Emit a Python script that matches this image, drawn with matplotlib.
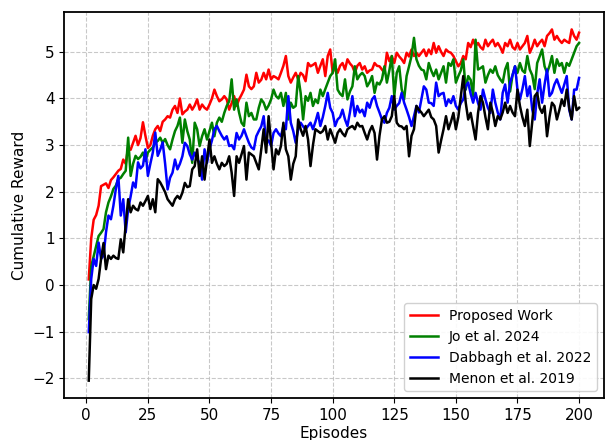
import matplotlib
matplotlib.use("Agg")
import matplotlib.pyplot as plt
import numpy as np

episodes = list(range(1, 201))

proposed = [
    0.12, 1.00, 1.40, 1.50, 1.70, 2.12, 2.15, 2.18, 2.08, 2.25,
    2.31, 2.38, 2.45, 2.49, 2.69, 2.60, 2.95, 2.90, 3.05, 3.20,
    3.00, 3.15, 3.49, 3.20, 2.94, 3.00, 3.20, 3.34, 3.41, 3.30,
    3.50, 3.55, 3.62, 3.59, 3.76, 3.84, 3.69, 4.00, 3.66, 3.72,
    3.76, 3.87, 3.76, 3.85, 3.98, 3.76, 3.87, 3.80, 3.76, 3.87,
    4.00, 4.19, 4.05, 3.94, 3.98, 4.05, 3.98, 3.76, 3.90, 4.05,
    3.84, 3.98, 4.08, 4.19, 4.51, 4.26, 4.20, 4.26, 4.55, 4.34,
    4.40, 4.55, 4.41, 4.62, 4.41, 4.48, 4.45, 4.41, 4.55, 4.70,
    4.91, 4.48, 4.34, 4.45, 4.55, 4.41, 4.55, 4.50, 4.37, 4.76,
    4.69, 4.72, 4.76, 4.55, 4.70, 4.84, 4.48, 4.91, 5.05, 4.55,
    4.69, 4.55, 4.70, 4.76, 4.62, 4.84, 4.75, 4.69, 4.55, 4.70,
    4.76, 4.62, 4.69, 4.55, 4.60, 4.62, 4.76, 4.70, 4.69, 4.62,
    4.55, 4.98, 4.80, 4.91, 4.76, 4.98, 4.90, 4.84, 4.76, 4.98,
    4.90, 5.05, 4.91, 4.98, 4.91, 4.98, 5.05, 4.91, 5.05, 4.95,
    5.19, 4.98, 5.12, 5.00, 4.91, 5.05, 5.00, 4.98, 4.91, 4.80,
    4.69, 4.76, 4.91, 4.84, 5.19, 5.10, 5.26, 5.12, 5.19, 5.10,
    5.05, 5.26, 5.12, 5.20, 5.26, 5.12, 5.19, 5.10, 4.98, 5.19,
    5.12, 5.26, 5.10, 5.05, 5.19, 5.05, 5.12, 5.19, 5.34, 4.98,
    5.10, 5.26, 5.12, 5.20, 5.26, 5.12, 5.34, 5.40, 5.48, 5.26,
    5.34, 5.25, 5.19, 5.26, 5.22, 5.19, 5.48, 5.34, 5.26, 5.41,
]

jo2024 = [
    -0.73, 0.40, 0.62, 0.84, 1.05, 1.12, 1.20, 1.56, 1.77, 1.90,
    2.06, 2.13, 2.27, 2.30, 2.38, 2.45, 3.16, 2.34, 2.60, 2.77,
    2.70, 2.75, 2.84, 2.66, 2.84, 2.90, 2.95, 3.05, 3.09, 3.16,
    3.05, 3.13, 3.00, 2.91, 3.12, 3.30, 3.41, 3.59, 3.05, 3.55,
    3.30, 3.12, 2.62, 3.48, 3.34, 2.98, 3.19, 3.34, 3.12, 3.30,
    3.48, 3.19, 3.48, 3.59, 3.50, 3.69, 3.84, 3.94, 4.41, 3.76,
    3.98, 3.70, 3.48, 3.41, 3.91, 3.62, 3.69, 3.55, 3.55, 3.80,
    3.98, 3.91, 3.76, 3.85, 3.98, 4.19, 4.05, 4.00, 4.12, 3.84,
    4.12, 3.55, 3.91, 3.80, 3.84, 4.48, 4.12, 3.55, 4.05, 3.95,
    4.12, 3.84, 3.98, 3.90, 4.19, 4.05, 4.20, 4.34, 4.48, 4.55,
    4.84, 4.19, 4.10, 4.05, 4.41, 3.98, 4.15, 4.26, 4.69, 4.41,
    4.50, 4.55, 4.48, 4.26, 4.35, 4.48, 4.12, 4.34, 4.30, 4.41,
    4.69, 4.34, 4.60, 4.91, 4.05, 4.55, 4.69, 4.20, 3.98, 4.48,
    4.69, 4.91, 5.30, 4.84, 4.70, 4.62, 4.60, 4.41, 4.76, 4.60,
    4.48, 4.62, 4.41, 4.55, 4.69, 4.34, 4.76, 4.70, 4.84, 4.34,
    4.48, 4.60, 4.84, 4.19, 4.48, 4.40, 4.05, 5.26, 4.62, 4.65,
    4.69, 4.34, 4.50, 4.62, 4.55, 4.69, 4.50, 4.41, 4.34, 4.62,
    4.76, 4.15, 4.50, 4.69, 4.55, 4.76, 4.60, 4.55, 4.91, 4.62,
    4.50, 4.20, 4.76, 4.90, 5.05, 4.69, 4.55, 4.70, 4.91, 4.55,
    4.84, 4.70, 4.76, 4.55, 4.76, 4.70, 4.84, 4.98, 5.12, 5.19,
]

dabbagh2022 = [
    -1.01, 0.13, 0.56, 0.41, 0.91, 0.56, 0.63, 1.13, 1.49, 1.41,
    1.70, 2.06, 2.34, 1.49, 1.84, 1.13, 1.63, 1.90, 2.20, 2.09,
    2.63, 2.50, 2.56, 2.91, 2.34, 2.60, 2.84, 3.27, 2.77, 2.90,
    3.06, 2.60, 2.05, 2.30, 2.41, 2.69, 2.48, 2.60, 2.76, 3.05,
    2.98, 2.80, 2.69, 2.84, 2.70, 2.62, 2.26, 2.91, 2.62, 2.91,
    3.10, 3.34, 3.41, 3.30, 3.20, 3.12, 3.19, 2.98, 3.00, 2.91,
    3.26, 3.12, 3.20, 3.34, 3.19, 3.05, 2.95, 2.91, 3.19, 3.30,
    3.40, 3.62, 3.05, 3.10, 2.98, 3.26, 3.34, 3.25, 3.19, 3.41,
    3.34, 4.05, 3.48, 3.30, 3.05, 3.34, 3.48, 3.40, 3.34, 3.41,
    3.48, 3.34, 3.50, 3.69, 3.41, 3.60, 3.84, 4.12, 3.80, 3.69,
    3.41, 3.55, 3.60, 3.76, 3.55, 3.41, 3.70, 4.05, 3.62, 3.84,
    3.70, 3.76, 3.62, 3.91, 3.80, 3.98, 4.05, 3.84, 3.70, 3.55,
    3.48, 3.69, 3.80, 4.05, 3.76, 3.84, 3.90, 4.12, 3.91, 3.76,
    3.60, 3.41, 3.62, 3.84, 3.70, 3.98, 4.26, 4.19, 3.91, 3.90,
    3.84, 4.34, 4.05, 4.10, 4.12, 3.84, 3.98, 3.90, 4.05, 3.84,
    3.76, 3.90, 3.98, 4.26, 4.34, 4.10, 3.91, 4.12, 3.90, 3.76,
    4.19, 3.98, 3.80, 3.69, 4.19, 3.91, 3.70, 3.55, 4.12, 4.30,
    3.91, 4.34, 4.50, 4.69, 4.19, 3.98, 4.20, 4.48, 4.05, 4.26,
    3.76, 3.55, 4.10, 4.41, 3.91, 4.30, 4.62, 4.05, 4.12, 4.30,
    4.41, 4.26, 4.12, 4.30, 4.48, 3.76, 3.55, 4.19, 4.19, 4.44,
]

menon2019 = [
    -2.05, -0.30, 0.00, -0.08, 0.13, 0.56, 0.90, 0.34, 0.63, 0.56,
    0.63, 0.58, 0.56, 0.98, 0.70, 1.30, 1.84, 1.56, 1.70, 1.63,
    1.60, 1.77, 1.70, 1.80, 1.91, 1.63, 1.84, 1.56, 2.27, 2.20,
    2.10, 1.99, 1.84, 1.77, 1.70, 1.84, 1.91, 1.85, 1.98, 2.19,
    2.10, 2.12, 2.48, 2.55, 2.91, 2.34, 2.76, 2.26, 2.70, 3.12,
    2.62, 2.76, 2.60, 2.48, 2.62, 2.55, 2.60, 2.76, 2.41, 1.91,
    2.76, 2.62, 2.80, 2.98, 2.26, 2.84, 2.80, 2.76, 2.62, 2.48,
    2.90, 3.34, 2.84, 3.62, 3.05, 2.48, 2.91, 2.80, 2.98, 3.48,
    2.91, 2.76, 2.26, 2.60, 2.76, 3.55, 3.34, 3.20, 3.41, 3.12,
    2.55, 3.00, 3.34, 3.30, 3.26, 3.30, 3.41, 3.12, 3.34, 3.20,
    3.05, 3.26, 3.34, 3.25, 3.19, 3.34, 3.38, 3.41, 3.34, 3.48,
    3.40, 3.41, 3.26, 3.12, 3.30, 3.41, 3.26, 2.69, 3.20, 3.55,
    3.62, 3.48, 3.50, 3.62, 4.05, 3.48, 3.41, 3.40, 3.34, 3.41,
    2.76, 3.20, 3.34, 3.84, 3.76, 3.70, 3.62, 3.69, 3.76, 3.60,
    3.55, 3.41, 2.84, 3.10, 3.34, 3.62, 3.34, 3.50, 3.69, 3.34,
    3.60, 4.05, 4.48, 3.91, 3.55, 3.69, 3.40, 3.12, 3.69, 4.05,
    3.91, 3.60, 3.34, 3.91, 3.70, 3.41, 3.62, 3.55, 3.70, 3.91,
    3.69, 3.84, 3.70, 3.62, 4.19, 3.84, 3.60, 3.41, 3.76, 2.98,
    3.50, 4.05, 4.12, 3.80, 3.69, 3.84, 3.19, 3.60, 3.91, 3.84,
    3.55, 3.75, 3.98, 3.84, 4.19, 3.80, 3.55, 4.05, 3.75, 3.80,
]

series_labels = ["Proposed Work", "Jo et al. 2024", "Dabbagh et al. 2022", "Menon et al. 2019"]
series_colors = ["red", "green", "blue", "black"]

fig = plt.figure(figsize=(6.06, 4.40), dpi=100)
ax = fig.add_axes([0.106, 0.095, 0.89, 0.878])

for vals, lab, col in zip([proposed, jo2024, dabbagh2022, menon2019], series_labels, series_colors):
    ax.plot(episodes, vals, color=col, lw=1.8, label=lab)

ax.set_xticks([0, 25, 50, 75, 100, 125, 150, 175, 200])
ax.set_yticks([-2, -1, 0, 1, 2, 3, 4, 5])
ax.grid(True, linestyle="--", color="#bbbbbb", linewidth=0.8, alpha=0.8)
ax.set_xlabel("Episodes", fontsize=11, labelpad=2)
ax.set_ylabel("Cumulative Reward", fontsize=11)
ax.tick_params(labelsize=11, direction="out", length=3.5)
for s in ax.spines.values():
    s.set_linewidth(1.3)
ax.legend(loc="lower right", fontsize=10, frameon=True, framealpha=0.9, edgecolor="#cccccc")

fig.savefig("out.png", dpi=100)
